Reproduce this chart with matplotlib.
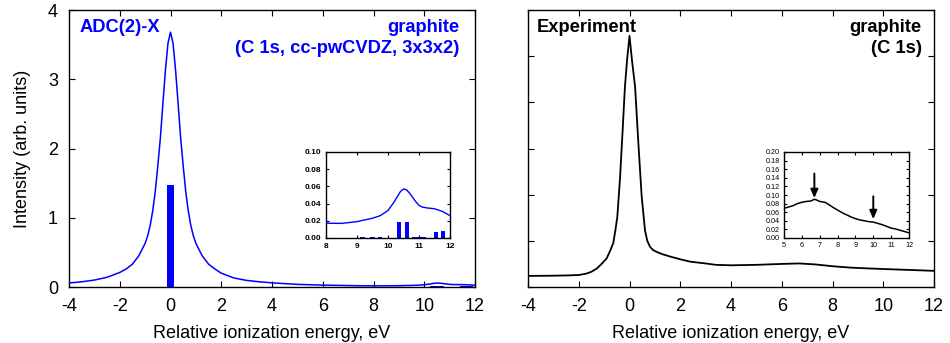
import matplotlib
matplotlib.use("Agg")
import matplotlib.pyplot as plt

plt.rcParams['font.family'] = ['Liberation Sans', 'DejaVu Sans']

# ---------------- data ----------------
# ADC(2)-X simulated spectrum (blue curve)
adc_x = [-4, -3.5, -3, -2.5, -2, -1.75, -1.5, -1.25, -1.0, -0.9, -0.8, -0.7, -0.6, -0.5,
         -0.4, -0.3, -0.2, -0.1, 0, 0.1, 0.2, 0.3, 0.4, 0.5, 0.6, 0.7, 0.8, 0.9, 1.0,
         1.25, 1.5, 1.75, 2, 2.5, 3, 3.5, 4, 5, 6, 7, 7.5, 8, 8.5, 9, 9.5, 9.75, 10,
         10.1, 10.2, 10.3, 10.4, 10.5, 10.6, 10.7, 10.8, 10.9, 11, 11.1, 11.25, 11.5,
         11.75, 12]
adc_y = [0.058, 0.075, 0.10, 0.14, 0.21, 0.26, 0.33, 0.45, 0.63, 0.74, 0.89, 1.10, 1.38,
         1.75, 2.15, 2.65, 3.13, 3.52, 3.68, 3.52, 3.13, 2.65, 2.15, 1.75, 1.38, 1.10,
         0.89, 0.74, 0.63, 0.45, 0.33, 0.26, 0.20, 0.13, 0.095, 0.075, 0.06, 0.038,
         0.027, 0.021, 0.018, 0.0172, 0.017, 0.019, 0.023, 0.026, 0.032, 0.037, 0.042,
         0.048, 0.054, 0.057, 0.056, 0.052, 0.047, 0.042, 0.038, 0.036, 0.035, 0.034,
         0.031, 0.026]

# ADC(2)-X stick spectrum
stick_e = [0.0, 9.18, 9.5, 9.75, 10.35, 10.62, 10.85, 11.0, 11.15, 11.54, 11.78]
stick_h = [1.48, 0.001, 0.001, 0.001, 0.019, 0.019, 0.0015, 0.0015, 0.0015, 0.0073, 0.0078]

# Experimental spectrum (black curve), arbitrary units
exp_x = [-4, -3, -2.5, -2, -1.7, -1.5, -1.29, -1.1, -0.9, -0.75, -0.64, -0.55, -0.48,
         -0.37, -0.27, -0.18, -0.09, 0, 0.1, 0.22, 0.35, 0.48, 0.61, 0.7, 0.81, 0.93,
         1.07, 1.3, 1.6, 2.0, 2.38, 3, 3.4, 4, 5, 6, 6.7, 7.3, 8, 8.7, 9.5, 10, 11, 12]
exp_y = [0.24, 0.245, 0.25, 0.26, 0.29, 0.33, 0.40, 0.50, 0.62, 0.80, 0.95, 1.25, 1.52,
         2.39, 3.40, 4.34, 4.95, 5.44, 4.90, 4.34, 3.11, 1.96, 1.23, 1.00, 0.87, 0.80,
         0.76, 0.71, 0.66, 0.60, 0.55, 0.51, 0.48, 0.47, 0.48, 0.50, 0.51, 0.49, 0.45,
         0.42, 0.40, 0.39, 0.37, 0.35]

# Experimental satellite region (inset)
exp_in_x = [5, 5.25, 5.5, 5.75, 6, 6.25, 6.5, 6.7, 6.85, 7, 7.3, 7.5, 7.75, 8, 8.25, 8.5,
            8.75, 9, 9.25, 9.5, 9.75, 10, 10.25, 10.5, 10.75, 11, 11.25, 11.5, 11.75, 12]
exp_in_y = [0.069, 0.072, 0.075, 0.080, 0.083, 0.085, 0.086, 0.090, 0.088, 0.085, 0.083,
            0.078, 0.071, 0.065, 0.059, 0.054, 0.049, 0.045, 0.042, 0.040, 0.038, 0.037,
            0.034, 0.031, 0.027, 0.023, 0.021, 0.018, 0.015, 0.012]

# Arrow markers in the experimental inset: (x, y_start, y_end)
arrows = [(6.7, 0.150, 0.093), (10.0, 0.097, 0.044)]

xticks_main = [-4, -2, 0, 2, 4, 6, 8, 10, 12]
yticks_left = [0, 1, 2, 3, 4]
yticks_right = [0, 1, 2, 3, 4, 5, 6]
xticks_in_l = [8, 9, 10, 11, 12]
yticks_in_l = [0.00, 0.02, 0.04, 0.06, 0.08, 0.10]
xticks_in_r = [5, 6, 7, 8, 9, 10, 11, 12]
yticks_in_r = [0.00, 0.02, 0.04, 0.06, 0.08, 0.10, 0.12, 0.14, 0.16, 0.18, 0.20]

BLUE = '#0000ff'
W, H = 950, 343
FS = 13.0     # main tick / axis label size
FT = 13.2     # bold annotation size

fig = plt.figure(figsize=(W / 100, H / 100), dpi=100)


def ax_px(x0, x1, ytop, ybot):
    return fig.add_axes([x0 / W, (H - ybot) / H, (x1 - x0) / W, (ybot - ytop) / H])


def style(ax, size, pad, fs, weight='normal'):
    ax.tick_params(which='both', direction='in', top=True, right=True,
                   length=size, width=0.8, pad=pad, labelsize=fs)
    for lab in ax.get_xticklabels() + ax.get_yticklabels():
        lab.set_fontweight(weight)
    for s in ax.spines.values():
        s.set_linewidth(1.0)


# ---------------- left main ----------------
axL = ax_px(69, 475, 10, 287)
axL.plot(adc_x, adc_y, color=BLUE, lw=1.1, zorder=3)
axL.bar(stick_e, stick_h, width=0.28, color=BLUE, zorder=2)
axL.set_xlim(-4, 12)
axL.set_ylim(0, 4)
axL.set_xticks(xticks_main)
axL.set_yticks(yticks_left)
axL.set_xticklabels([str(v) for v in xticks_main])
style(axL, 4, 8.0, FS)
axL.set_xlabel('Relative ionization energy, eV', fontsize=FS, labelpad=7)
axL.set_ylabel('Intensity (arb. units)', fontsize=FS, labelpad=12)
axL.text(0.027, 0.92, 'ADC(2)-X', transform=axL.transAxes, color=BLUE,
         fontsize=FT, fontweight='bold', ha='left', va='baseline')
axL.text(0.962, 0.92, 'graphite', transform=axL.transAxes, color=BLUE,
         fontsize=FT, fontweight='bold', ha='right', va='baseline')
axL.text(0.962, 0.845, '(C 1s, cc-pwCVDZ, 3x3x2)', transform=axL.transAxes, color=BLUE,
         fontsize=FT, fontweight='bold', ha='right', va='baseline')

# left inset
axLi = ax_px(326, 450, 152, 238)
axLi.plot(adc_x, adc_y, color=BLUE, lw=1.0, zorder=3)
axLi.bar(stick_e, stick_h, width=0.14, color=BLUE, zorder=2)
axLi.set_xlim(8, 12)
axLi.set_ylim(0, 0.1)
axLi.set_xticks(xticks_in_l)
axLi.set_yticks(yticks_in_l)
axLi.set_yticklabels(['%.2f' % v for v in yticks_in_l])
style(axLi, 2.5, 3.5, 6.0, weight='bold')

# ---------------- right main ----------------
axR = ax_px(528, 934, 10, 287)
axR.plot(exp_x, exp_y, color='black', lw=1.3)
axR.set_xlim(-4, 12)
axR.set_ylim(0, 6)
axR.set_xticks(xticks_main)
axR.set_yticks(yticks_right)
axR.set_xticklabels([str(v) for v in xticks_main])
axR.set_yticklabels([])
style(axR, 4, 8.0, FS)
axR.set_xlabel('Relative ionization energy, eV', fontsize=FS, labelpad=7)
axR.text(0.022, 0.92, 'Experiment', transform=axR.transAxes, color='black',
         fontsize=FT, fontweight='bold', ha='left', va='baseline')
axR.text(0.97, 0.92, 'graphite', transform=axR.transAxes, color='black',
         fontsize=FT, fontweight='bold', ha='right', va='baseline')
axR.text(0.97, 0.845, '(C 1s)', transform=axR.transAxes, color='black',
         fontsize=FT, fontweight='bold', ha='right', va='baseline')

# right inset
axRi = ax_px(784, 909, 152, 238)
axRi.plot(exp_in_x, exp_in_y, color='black', lw=1.1)
for ax_, y0, y1 in arrows:
    axRi.annotate('', xy=(ax_, y1), xytext=(ax_, y0),
                  arrowprops=dict(arrowstyle='-|>,head_length=0.5,head_width=0.22',
                                  color='black', lw=1.4, shrinkA=0, shrinkB=0))
axRi.set_xlim(5, 12)
axRi.set_ylim(0, 0.2)
axRi.set_xticks(xticks_in_r)
axRi.set_yticks(yticks_in_r)
axRi.set_yticklabels(['%.2f' % v for v in yticks_in_r])
style(axRi, 2.5, 3.0, 5.2)

fig.savefig('out.png', dpi=100)
